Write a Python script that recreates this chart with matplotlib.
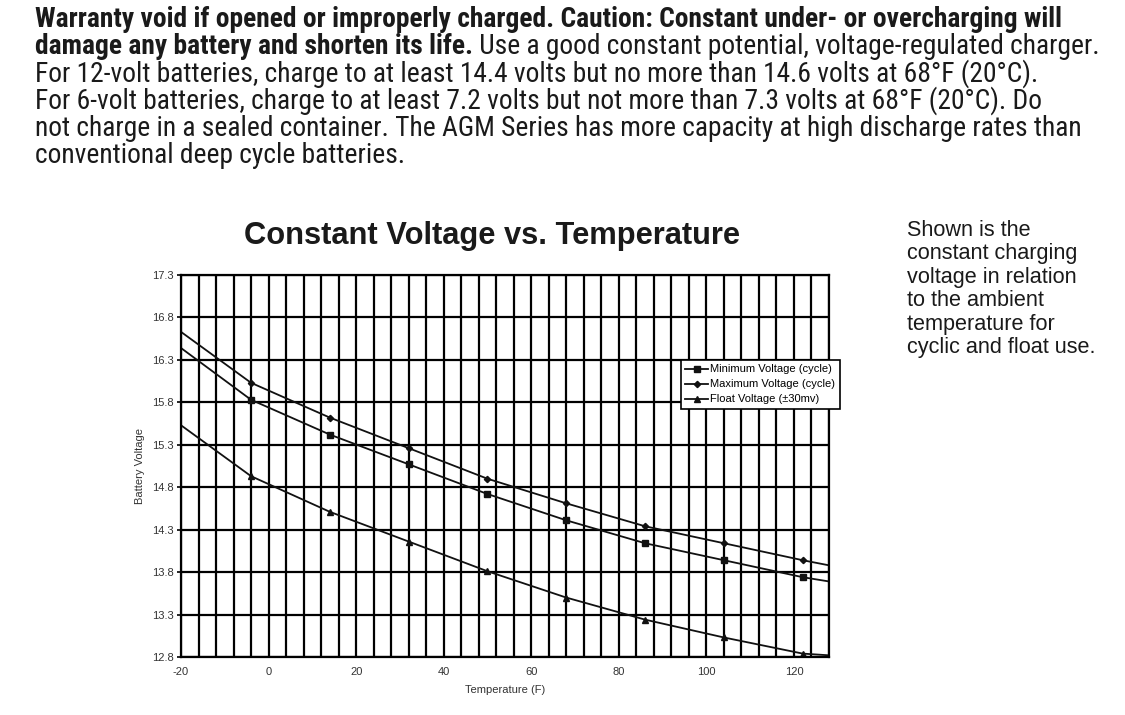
"""Constant Voltage vs. Temperature - AGM battery charging chart with page text."""

import matplotlib

matplotlib.use("Agg")
import matplotlib.pyplot as plt
from matplotlib import font_manager
from matplotlib.ticker import MultipleLocator

plt.rcParams["axes.unicode_minus"] = False

W, H = 1125, 715

# data (deg F -> volts); first/last entries are the line ends
temp_f = [-20, -4, 14, 32, 50, 68, 86, 104, 122, 128]
v_min = [16.44, 15.83, 15.42, 15.07, 14.72, 14.41, 14.14, 13.94, 13.74, 13.69]
v_max = [16.63, 16.03, 15.62, 15.26, 14.90, 14.61, 14.34, 14.14, 13.94, 13.88]
v_float = [15.53, 14.93, 14.51, 14.16, 13.81, 13.50, 13.24, 13.03, 12.84, 12.82]

x_ticks = [-20, 0, 20, 40, 60, 80, 100, 120]
y_ticks = [12.8, 13.3, 13.8, 14.3, 14.8, 15.3, 15.8, 16.3, 16.8, 17.3]

series_labels = ["Minimum Voltage (cycle)", "Maximum Voltage (cycle)", "Float Voltage (\u00b130mv)"]

body_lines = [
    [("Warranty void if opened or improperly charged. Caution: Constant under- or overcharging will", "bold")],
    [("damage any battery and shorten its life.", "bold"),
     (" Use a good constant potential, voltage-regulated charger.", "normal")],
    [("For 12-volt batteries, charge to at least 14.4 volts but no more than 14.6 volts at 68\u00b0F (20\u00b0C).", "normal")],
    [("For 6-volt batteries, charge to at least 7.2 volts but not more than 7.3 volts at 68\u00b0F (20\u00b0C). Do", "normal")],
    [("not charge in a sealed container. The AGM Series has more capacity at high discharge rates than", "normal")],
    [("conventional deep cycle batteries.", "normal")],
]

side_lines = [
    "Shown is the",
    "constant charging",
    "voltage in relation",
    "to the ambient",
    "temperature for",
    "cyclic and float use.",
]

installed = font_manager.fontManager.ttflist
names = {f.name for f in installed}
SANS = "Liberation Sans" if "Liberation Sans" in names else "DejaVu Sans"

# the page copy is set in a condensed grotesque; take the narrowest face around
NARROW, STRETCH = SANS, "normal"
for pref in ["Liberation Sans Narrow", "Roboto Condensed", "Open Sans Condensed",
             "Noto Sans Condensed", "DejaVu Sans Condensed", "Arial Narrow"]:
    if pref in names:
        NARROW = pref
        break
else:
    for f in installed:
        if str(f.stretch) in ("condensed", "semi-condensed", "extra-condensed") or \
                "narrow" in f.name.lower() or "condensed" in f.name.lower():
            NARROW, STRETCH = f.name, f.stretch
            break


def fy(y):
    """top-down pixel row -> figure fraction"""
    return (H - y) / H


fig = plt.figure(figsize=(W / 100, H / 100), dpi=100)
fig.patch.set_facecolor("white")
renderer = fig.canvas.get_renderer()

# size the copy so the 3rd line spans what it spans on the page (x 35..1043)
probe = fig.text(0, 0, body_lines[2][0][0], family=NARROW, stretch=STRETCH, fontsize=18)
body_size = min(21.0, 18 * 1008 / probe.get_window_extent(renderer).width)
probe.remove()

for i, parts in enumerate(body_lines):
    base = 27 + 27.2 * i
    x = 35.0
    for txt, weight in parts:
        t = fig.text(x / W, fy(base), txt, family=NARROW, stretch=STRETCH, weight=weight,
                     fontsize=body_size, color="#1a1a1a", va="baseline", ha="left")
        x += t.get_window_extent(renderer).width

# side note
for i, txt in enumerate(side_lines):
    fig.text(907 / W, fy(236 + 23.4 * i), txt, family=SANS, fontsize=15.6,
             color="#1a1a1a", va="baseline", ha="left")

# chart title
fig.text(492 / W, fy(244), "Constant Voltage vs. Temperature", family=SANS,
         weight="bold", fontsize=22.2, color="#1a1a1a", ha="center", va="baseline")

ax = fig.add_axes([181 / W, 1 - 657 / H, (829 - 181) / W, (657 - 275) / H])
ax.set_xlim(-20, 128)
ax.set_ylim(12.8, 17.3)
ax.set_xticks(x_ticks)
ax.xaxis.set_minor_locator(MultipleLocator(4))
ax.set_yticks(y_ticks)
ax.set_yticklabels([f"{v:.1f}" for v in y_ticks])
ax.grid(True, which="both", color="black", linewidth=1.6)
ax.set_axisbelow(True)
for sp in ax.spines.values():
    sp.set_linewidth(1.6)
    sp.set_color("black")
ax.tick_params(axis="x", which="both", length=0, pad=7, labelsize=8, labelcolor="#333333")
ax.tick_params(axis="y", which="major", length=3, width=1.2, pad=2, labelsize=8,
               labelcolor="#333333")
for lab in ax.get_xticklabels() + ax.get_yticklabels():
    lab.set_family(SANS)

inner = list(range(1, len(temp_f) - 1))
ax.plot(temp_f, v_min, color="#111111", lw=1.3, marker="s", ms=4.4,
        markevery=inner, label=series_labels[0])
ax.plot(temp_f, v_max, color="#111111", lw=1.3, marker="D", ms=3.2,
        markevery=inner, label=series_labels[1])
ax.plot(temp_f, v_float, color="#111111", lw=1.3, marker="^", ms=4.4,
        markevery=inner, label=series_labels[2])

ax.set_xlabel("Temperature (F)", family=SANS, fontsize=8, color="#333333", labelpad=6)
ax.set_ylabel("Battery Voltage", family=SANS, fontsize=8, color="#333333", labelpad=5)

leg = ax.legend(loc="upper left", bbox_to_anchor=(681 / W, 1 - 360 / H),
                bbox_transform=fig.transFigure, borderaxespad=0, fancybox=False,
                framealpha=1, edgecolor="black", prop={"family": SANS, "size": 8},
                handlelength=2.0, handletextpad=0.25, labelspacing=0.45,
                borderpad=0.4)
leg.get_frame().set_linewidth(1.2)
leg.set_zorder(5)

fig.savefig("out.png", dpi=100)
